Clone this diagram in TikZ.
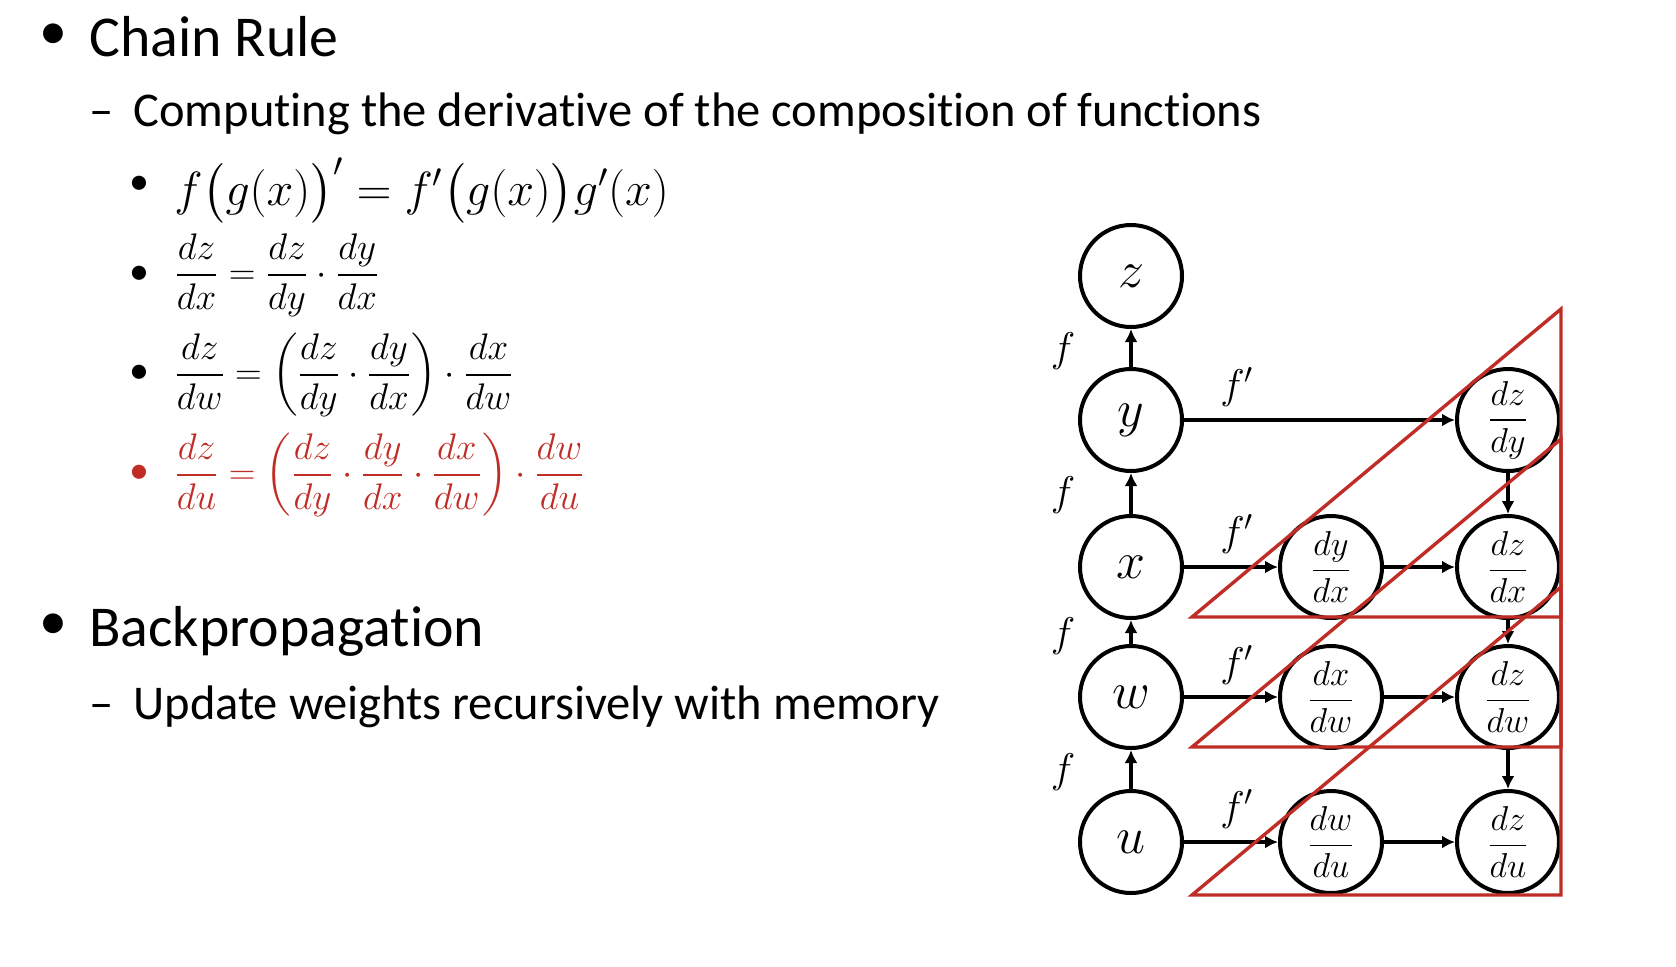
\RequirePackage{fix-cm}
\documentclass[tikz,border=0pt]{standalone}
\usepackage{amsmath}
\usepackage{fontspec}
\setmainfont{Carlito}[Ligatures=NoCommon]
\usetikzlibrary{arrows.meta}
\definecolor{myred}{RGB}{192,45,38}
\begin{document}
\begin{tikzpicture}[x=0.5pt,y=-0.5pt,
  h1/.style={anchor=base west,inner sep=0pt,font=\fontsize{28.9pt}{34pt}\selectfont},
  h2/.style={anchor=base west,inner sep=0pt,font=\fontsize{24.25pt}{30pt}\selectfont},
  bul1/.style={inner sep=0pt,font=\fontsize{28pt}{30pt}\selectfont},
  bul2/.style={inner sep=0pt,font=\fontsize{20pt}{24pt}\selectfont},
  fm/.style={anchor=west,inner sep=0pt,font=\fontsize{18.5pt}{23pt}\selectfont},
  var/.style={circle,draw,line width=2pt,minimum size=51pt,inner sep=0pt,font=\fontsize{26pt}{30pt}\selectfont},
  dvar/.style={circle,draw,line width=2pt,minimum size=51pt,inner sep=0pt,font=\fontsize{17.28pt}{20pt}\selectfont},
  lab/.style={inner sep=0pt,font=\fontsize{20.74pt}{26pt}\selectfont},
  arr/.style={line width=1.7pt,-{Latex[length=6.5pt,width=6.5pt]}},
  tri/.style={draw=myred,line width=1.7pt,line join=miter}
]
\useasboundingbox (0,0) rectangle (1676,966);

% left text
\node[bul1] (b1) at (53,37) {\textbullet};
\node[h1] (t1) at (89,56) {Chain Rule};
\node[h2] (d1) at (89,126) {–};
\node[h2] (t2) at (133,126) {Computing the derivative of the composition of functions};

\node[bul2] (s1) at (139,185) {\textbullet};
\node[bul2] (s2) at (139,275) {\textbullet};
\node[bul2] (s3) at (139,374) {\textbullet};
\node[bul2,text=myred] (s4) at (139,474) {\textbullet};

\node[anchor=base west,inner sep=0pt,font=\fontsize{24pt}{28pt}\selectfont] (e1) at (174,205)
  {$f\bigl(g(x)\bigr)'=f'\bigl(g(x)\bigr)g'(x)$};
\node[fm] (e2) at (174,275) {$\dfrac{dz}{dx}=\dfrac{dz}{dy}\cdot\dfrac{dy}{dx}$};
\node[fm] (e3) at (174,375) {$\dfrac{dz}{dw}=\left(\dfrac{dz}{dy}\cdot\dfrac{dy}{dx}\right)\cdot\dfrac{dx}{dw}$};
\node[fm,text=myred] (e4) at (174,475) {$\dfrac{dz}{du}=\left(\dfrac{dz}{dy}\cdot\dfrac{dy}{dx}\cdot\dfrac{dx}{dw}\right)\cdot\dfrac{dw}{du}$};

\node[bul1] (b2) at (53,627) {\textbullet};
\node[h1] (t3) at (89,646) {Backpropagation};
\node[h2] (d2) at (89,719) {–};
\node[h2] (t4) at (133,719) {Update weights recursively with memory};

% diagram nodes
\node[var] (z) at (1131,276) {$z$};
\node[var] (y) at (1131,420) {$y$};
\node[var] (x) at (1131,567) {$x$};
\node[var] (w) at (1131,697) {$w$};
\node[var] (u) at (1131,842) {$u$};

\node[dvar] (dzdy) at (1508,420) {$\dfrac{dz}{dy}$};
\node[dvar] (dydx) at (1331,567) {$\dfrac{dy}{dx}$};
\node[dvar] (dzdx) at (1508,567) {$\dfrac{dz}{dx}$};
\node[dvar] (dxdw) at (1331,697) {$\dfrac{dx}{dw}$};
\node[dvar] (dzdw) at (1508,697) {$\dfrac{dz}{dw}$};
\node[dvar] (dwdu) at (1331,842) {$\dfrac{dw}{du}$};
\node[dvar] (dzdu) at (1508,842) {$\dfrac{dz}{du}$};

% labels
\node[lab] (f1) at (1063,351) {$f$};
\node[lab] (f2) at (1063,495) {$f$};
\node[lab] (f3) at (1063,636) {$f$};
\node[lab] (f4) at (1063,772) {$f$};
\node[lab] (g1) at (1237,387) {$f'$};
\node[lab] (g2) at (1237,534) {$f'$};
\node[lab] (g3) at (1237,665) {$f'$};
\node[lab] (g4) at (1237,809) {$f'$};

% arrows
\draw[arr] (y) -- (z);
\draw[arr] (x) -- (y);
\draw[arr] (w) -- (x);
\draw[arr] (u) -- (w);
\draw[arr] (y) -- (dzdy);
\draw[arr] (x) -- (dydx);
\draw[arr] (dydx) -- (dzdx);
\draw[arr] (w) -- (dxdw);
\draw[arr] (dxdw) -- (dzdw);
\draw[arr] (u) -- (dwdu);
\draw[arr] (dwdu) -- (dzdu);
\draw[arr] (dzdy) -- (dzdx);
\draw[arr] (dzdx) -- (dzdw);
\draw[arr] (dzdw) -- (dzdu);

% red triangles
\draw[tri] (1192,617) -- (1561,617) -- (1561,309) -- cycle;
\draw[tri] (1192,747) -- (1561,747) -- (1561,439) -- cycle;
\draw[tri] (1192,895) -- (1561,895) -- (1561,587) -- cycle;
\end{tikzpicture}
\end{document}
